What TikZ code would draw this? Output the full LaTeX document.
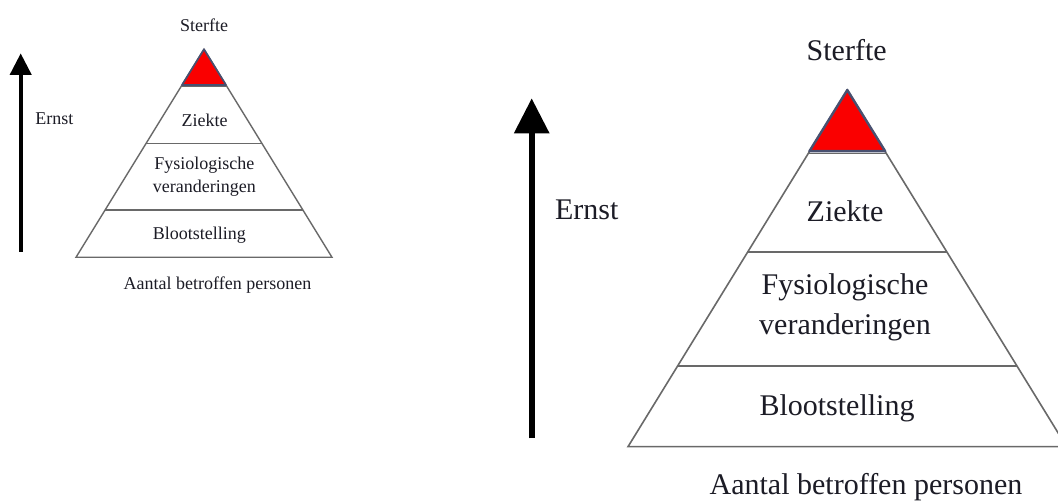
\documentclass[tikz,border=0pt]{standalone}
\usepackage{fontspec}
\setmainfont{Liberation Serif}
\usetikzlibrary{arrows.meta}
\definecolor{txt}{RGB}{28,28,38}
\definecolor{pyrline}{RGB}{105,105,105}
\definecolor{topred}{RGB}{250,0,0}
\definecolor{topedge}{RGB}{72,80,112}
\tikzset{
  lbl/.style={inner sep=0pt, anchor=base, text=txt},
  smallf/.style={font=\fontsize{18}{22.7}\selectfont},
  bigf/.style={font=\fontsize{30}{40}\selectfont},
  pyr/.style={draw=pyrline, line width=1.4pt, line join=miter},
  tip/.style={fill=topred, draw=topedge, line width=2.2pt, line join=round},
  ernstarrow/.style={draw=black}
}
\begin{document}
\begin{tikzpicture}[x=1pt, y=-1pt]
\useasboundingbox (0,0) rectangle (1058,502);
\clip (0,0) rectangle (1058,502);
\fill[white] (0,0) rectangle (1058,502);

% ---------------- small pyramid ----------------
\draw[pyr] (76,257.3) -- (204,49.3) -- (332,257.3) -- cycle;
\draw[pyr] (146.2,143.3) -- (261.8,143.3);
\draw[pyr] (105.1,210) -- (302.9,210);
\draw[pyr] (182,86.3) -- (226,86.3);
\draw[tip, line width=1.7pt] (204,49.3) -- (226,85) -- (182,85) -- cycle;

\coordinate (sA0) at (20.7,251.7);
\coordinate (sA1) at (20.7,53.3);
\draw[ernstarrow, line width=4.3pt, -{Triangle[length=21.7pt,width=21pt]}] (sA0) -- (sA1);

\node[lbl, smallf] (sSterfte) at (204,31.7) {Sterfte};
\node[lbl, smallf] (sZiekte) at (204.5,126.7) {Ziekte};
\node[lbl, smallf, align=center] (sFys) at (204.3,192.7) {Fysiologische\\veranderingen};
\node[lbl, smallf] (sBloot) at (199.3,240) {Blootstelling};
\node[lbl, smallf] (sAantal) at (217.5,289.3) {Aantal betroffen personen};
\node[lbl, smallf] (sErnst) at (54.3,125) {Ernst};

% ---------------- large pyramid ----------------
\draw[pyr, line width=1.6pt] (628,446.7) -- (847.3,90) -- (1066.6,446.7) -- cycle;
\draw[pyr, line width=1.6pt] (747.7,252) -- (946.9,252);
\draw[pyr, line width=1.6pt] (677.6,366) -- (1017,366);
\draw[pyr, line width=1.6pt] (808.5,153.5) -- (886,153.5);
\draw[tip, line width=2.4pt] (847.3,90) -- (885.2,151.2) -- (809.4,151.2) -- cycle;

\coordinate (bA0) at (531.7,438.3);
\coordinate (bA1) at (531.7,98.3);
\draw[ernstarrow, line width=6pt, -{Triangle[length=35pt,width=34pt]}] (bA0) -- (bA1);

\node[lbl, bigf] (bSterfte) at (846.7,60.7) {Sterfte};
\node[lbl, bigf] (bZiekte) at (845,221.7) {Ziekte};
\node[lbl, bigf, align=center] (bFys) at (845,335) {Fysiologische\\veranderingen};
\node[lbl, bigf] (bBloot) at (837,416) {Blootstelling};
\node[lbl, bigf] (bAantal) at (866,494.5) {Aantal betroffen personen};
\node[lbl, bigf] (bErnst) at (586.7,220) {Ernst};
\end{tikzpicture}
\end{document}
